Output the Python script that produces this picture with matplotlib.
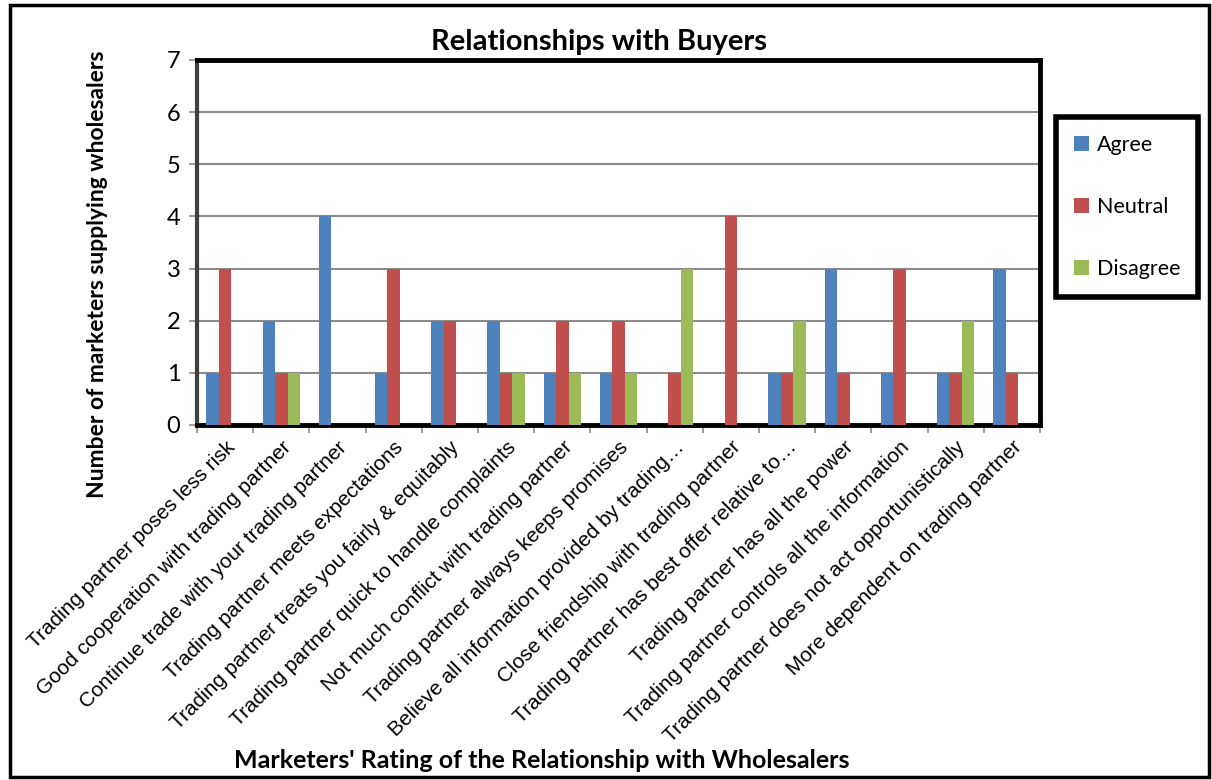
import matplotlib as mpl
import matplotlib.pyplot as plt
from matplotlib.patches import Rectangle
import numpy as np

categories = [
    'Trading partner poses less risk',
    'Good cooperation with trading partner',
    'Continue trade with your trading partner',
    'Trading partner meets expectations',
    'Trading partner treats you fairly & equitably',
    'Trading partner quick to handle complaints',
    'Not much conflict with trading partner',
    'Trading partner always keeps promises',
    'Believe all information provided by trading\u2026',
    'Close friendship with trading partner',
    'Trading partner has best offer relative to\u2026',
    'Trading partner has all the power',
    'Trading partner controls all the information',
    'Trading partner does not act opportunistically',
    'More dependent on trading partner',
]
agree    = [1, 2, 4, 1, 2, 2, 1, 1, 0, 0, 1, 3, 1, 1, 3]
neutral  = [3, 1, 0, 3, 2, 1, 2, 2, 1, 4, 1, 1, 3, 1, 1]
disagree = [0, 1, 0, 0, 0, 1, 1, 1, 3, 0, 2, 0, 0, 2, 0]
series_names = ['Agree', 'Neutral', 'Disagree']
colors = ['#4F81BD', '#C0504D', '#9BBB59']

#fonts
calibri = 'Lato'
arial = 'Liberation Sans'

fig = plt.figure(figsize=(12.12, 7.8), dpi=100)
ax = fig.add_axes([197/1212, 1-425/780, (1040-197)/1212, (425-60)/780])

x = np.arange(len(categories))
w = 0.222
for j, (vals, name) in enumerate(zip([agree, neutral, disagree], series_names)):
    ax.bar(x + (j-1)*w, vals, width=w, color=colors[j], label=name, zorder=3)

ax.set_xlim(-0.5, len(categories)-0.5)
ax.set_ylim(0, 7)
ax.set_yticks(range(8))
ax.set_yticklabels([str(v) for v in range(8)], fontfamily=calibri, fontsize=17)
ax.yaxis.grid(True, color='#8c8c8c', lw=1.5, zorder=0)
ax.tick_params(axis='y', length=6, width=1.2, color='#8c8c8c', pad=6)

ax.set_xticks(x)
ax.set_xticklabels(categories, rotation=45, ha='right', va='top',
                   rotation_mode='anchor', fontfamily=arial, fontsize=15)
ax.tick_params(axis='x', which='major', length=0, pad=9)
ax.set_xticks(np.arange(len(categories)+1)-0.5, minor=True)
ax.tick_params(axis='x', which='minor', length=6, width=1.2, color='#8c8c8c')

for s in ['top', 'right', 'bottom']:
    ax.spines[s].set_color('black')
    ax.spines[s].set_linewidth(3.5)
ax.spines['left'].set_color('#404040')
ax.spines['left'].set_linewidth(3)

fig.text(599/1212, 1-42/780, 'Relationships with Buyers', ha='center', va='center',
         fontfamily=calibri, fontweight='bold', fontsize=21)
fig.text(542/1212, 1-760/780, "Marketers' Rating of the Relationship with Wholesalers",
         ha='center', va='center', fontfamily=calibri, fontweight='bold', fontsize=18)
fig.text(98/1212, 1-274/780, 'Number of marketers supplying wholesalers', rotation=90,
         ha='center', va='center', fontfamily=calibri, fontweight='bold', fontsize=16.5)

leg = ax.legend(loc='center', bbox_to_anchor=(1127/1212, 1-207/780),
                bbox_transform=fig.transFigure, prop={'family': calibri, 'size': 15.5},
                handlelength=0.7, handleheight=0.7, handletextpad=0.35,
                labelspacing=1.95, borderpad=0.85, fancybox=False, framealpha=1)
leg.get_frame().set_edgecolor('black')
leg.get_frame().set_linewidth(4)

fig.patches.append(Rectangle((10/1212, 3/780), 1199/1212, 772/780, transform=fig.transFigure,
                             fill=False, edgecolor='black', lw=2.5))

fig.savefig('out.png', dpi=100)
